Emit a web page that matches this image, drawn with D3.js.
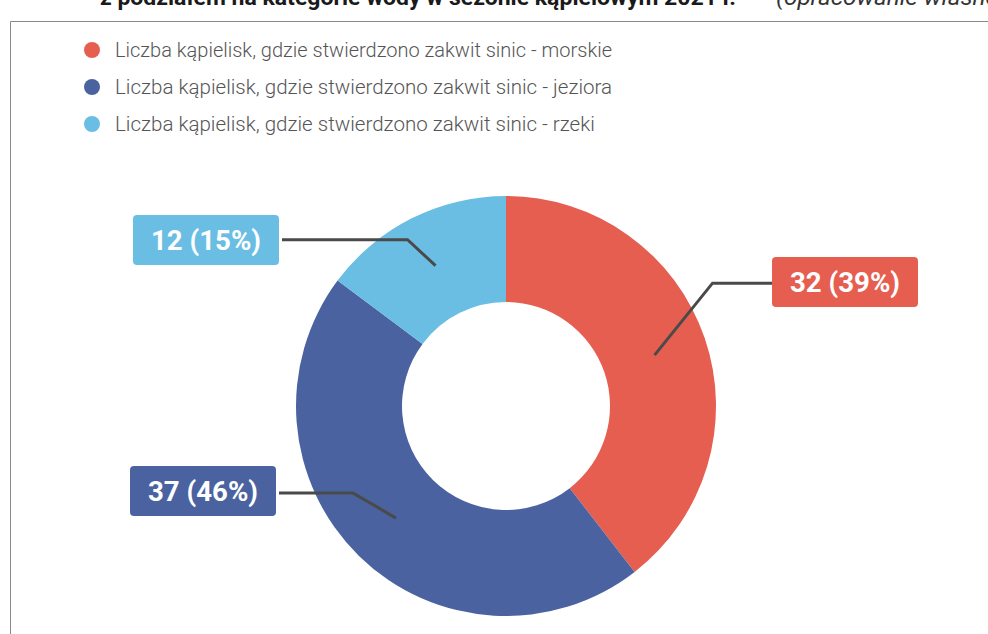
<!DOCTYPE html>
<head>
    <meta charset="utf-8">
    <script src="https://d3js.org/d3.v7.min.js"></script>
    <style>
        body { margin: 0; background: #fff; }
        svg { display: block; }
    </style>
</head>
<body>
<script>
    // data
    const categories = ["morskie", "jeziora", "rzeki"],
        values = [32, 37, 12],
        colors = ["#e65e50", "#4a63a0", "#6abee3"],
        legendPrefix = "Liczba kąpielisk, gdzie stwierdzono zakwit sinic - ";

    // label layout: elbow offset from slice centroid, box centre from pie centre
    const elbowOffsets = [[58, -72], [-43, -25], [-28, -26]],
        boxCenters = [[339, -124], [-303, 85], [-300, -166]];

    const width = 988, height = 634,
        cx = 506, cy = 406,
        outerR = 210, innerR = 104;

    const svg = d3.select("body").append("svg")
        .attr("width", width)
        .attr("height", height);

    // cropped title line at the very top
    svg.append("text")
        .attr("x", 100).attr("y", 5)
        .attr("font-family", "Roboto").attr("font-weight", 700)
        .attr("font-size", 22)
        .attr("textLength", 636).attr("lengthAdjust", "spacingAndGlyphs")
        .attr("fill", "#1a1a1a")
        .text("z podziałem na kategorie wody w sezonie kąpielowym 2021 r.");
    svg.append("text")
        .attr("x", 776).attr("y", 5)
        .attr("font-family", "Roboto").attr("font-style", "italic")
        .attr("font-size", 22)
        .attr("textLength", 230).attr("lengthAdjust", "spacingAndGlyphs")
        .attr("fill", "#333")
        .text("(opracowanie własne)");

    // frame
    svg.append("path")
        .attr("d", `M10.5,${height} V21.5 H${width}`)
        .attr("fill", "none")
        .attr("stroke", "#8a8a8a")
        .attr("stroke-width", 1);

    // legend
    const legend = svg.append("g").selectAll("g")
        .data(categories)
        .join("g")
        .attr("transform", (d, i) => `translate(92,${50 + i * 37})`);
    legend.append("circle")
        .attr("r", 8)
        .attr("fill", (d, i) => colors[i]);
    legend.append("text")
        .attr("x", 23).attr("y", 7)
        .attr("font-family", "Roboto").attr("font-weight", 300)
        .attr("font-size", 21)
        .attr("fill", "#555")
        .attr("textLength", (d) => (legendPrefix + d).length * 8.57)
        .attr("lengthAdjust", "spacingAndGlyphs")
        .text(d => legendPrefix + d);

    // donut
    const pie = d3.pie().sort(null).value(d => d)(values);
    const arc = d3.arc().innerRadius(innerR).outerRadius(outerR);
    const midArc = d3.arc().innerRadius((innerR + outerR) / 2).outerRadius((innerR + outerR) / 2);
    const total = d3.sum(values);

    // percentages rounded so they add up to 100 (largest remainder)
    const raw = values.map(v => v / total * 100),
        pct = raw.map(Math.floor);
    let left = 100 - d3.sum(pct);
    d3.range(values.length)
        .sort((a, b) => (raw[b] - pct[b]) - (raw[a] - pct[a]))
        .forEach(i => { if (left > 0) { pct[i]++; left--; } });

    const g = svg.append("g").attr("transform", `translate(${cx},${cy})`);
    g.selectAll("path.slice")
        .data(pie)
        .join("path")
        .attr("class", "slice")
        .attr("d", arc)
        .attr("fill", (d, i) => colors[i]);

    // labels with leader lines
    pie.forEach((d, i) => {
        const c = midArc.centroid(d),
            e = [c[0] + elbowOffsets[i][0], c[1] + elbowOffsets[i][1]],
            b = boxCenters[i],
            label = `${d.value} (${pct[i]}%)`;

        const lbl = g.append("g").attr("transform", `translate(${b[0]},${b[1]})`);
        const t = lbl.append("text")
            .attr("text-anchor", "middle")
            .attr("y", 10)
            .attr("font-family", "Roboto").attr("font-weight", 700)
            .attr("font-size", 28)
            .attr("fill", "#fff")
            .text(label);
        const w = 112 + 34, h = 50;
        t.attr("textLength", 110).attr("lengthAdjust", "spacingAndGlyphs");
        lbl.insert("rect", "text")
            .attr("x", -w / 2).attr("y", -h / 2)
            .attr("width", w).attr("height", h)
            .attr("rx", 4)
            .attr("fill", colors[i]);

        const boxEdge = e[0] < 0 ? b[0] + w / 2 + 3 : b[0] - w / 2;
        g.append("polyline")
            .attr("points", [c, e, [boxEdge, e[1]]].map(p => p.join(",")).join(" "))
            .attr("fill", "none")
            .attr("stroke", "#4a4a4a")
            .attr("stroke-width", 3);
    });
</script>
</body>
